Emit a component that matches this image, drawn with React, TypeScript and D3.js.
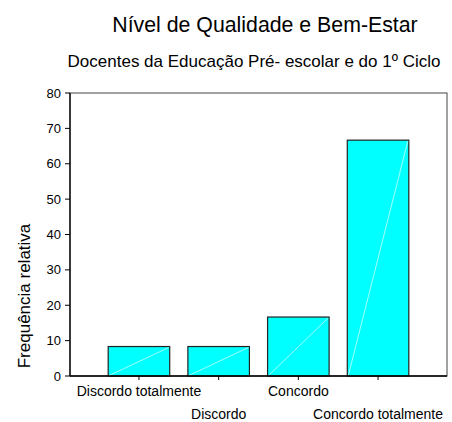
import React from "react";
import * as d3 from "d3";

const categories = ["Discordo totalmente", "Discordo", "Concordo", "Concordo totalmente"];
const values = [8.33, 8.33, 16.67, 66.67];
const yTicks = [0, 10, 20, 30, 40, 50, 60, 70, 80];
const title = "Nível de Qualidade e Bem-Estar";
const subtitle = "Docentes da Educação Pré- escolar e do 1º Ciclo";
const yTitle = "Frequência relativa";

const W = 452;
const H = 422;
const m = { left: 70, right: 447, top: 93, bottom: 376 };
const FONT = "'Liberation Sans', Arial, Helvetica, sans-serif";

export default function App() {
  const x = d3
    .scaleBand<string>()
    .domain(categories)
    .range([m.left, m.right])
    .paddingInner(0.228)
    .paddingOuter(0.479);
  const y = d3.scaleLinear().domain([0, 80]).range([m.bottom, m.top]);

  return (
    <svg
      width={W}
      height={H}
      style={{ position: "absolute", left: 0, top: 0, background: "#fff" }}
      fontFamily={FONT}
    >
      <text x={265} y={31.5} fontSize={21.3} textAnchor="middle" fill="#000">
        {title}
      </text>
      <text x={254} y={67} fontSize={17} textAnchor="middle" fill="#000">
        {subtitle}
      </text>

      {/* frame */}
      <rect
        x={m.left}
        y={m.top}
        width={m.right - m.left}
        height={m.bottom - m.top}
        fill="none"
        stroke="#444"
        strokeWidth={1}
      />

      {/* bars */}
      {categories.map((c, i) => {
        const bx = x(c)!;
        const bw = x.bandwidth();
        const by = y(values[i]);
        const bh = y(0) - by;
        return (
          <g key={c}>
            <rect x={bx} y={by} width={bw} height={bh} fill="#00ffff" stroke="#222" strokeWidth={1.2} />
            <line
              x1={bx + 1}
              y1={y(0) - 0.5}
              x2={bx + bw - 1}
              y2={by + 1}
              stroke="#ccffff"
              strokeWidth={0.8}
            />
          </g>
        );
      })}

      {/* y axis */}
      <line x1={m.left} y1={m.top} x2={m.left} y2={m.bottom} stroke="#000" strokeWidth={1.3} />
      {yTicks.map((t) => (
        <g key={t}>
          <line x1={m.left - 5} y1={y(t)} x2={m.left} y2={y(t)} stroke="#000" strokeWidth={1} />
          <text x={m.left - 9} y={y(t)} dy="0.35em" fontSize={13} textAnchor="end" fill="#000">
            {t}
          </text>
        </g>
      ))}

      {/* x axis */}
      <line x1={m.left} y1={m.bottom} x2={m.right} y2={m.bottom} stroke="#000" strokeWidth={1.3} />
      {categories.map((c, i) => {
        const cx = x(c)! + x.bandwidth() / 2;
        return (
          <g key={c}>
            <line x1={cx} y1={m.bottom} x2={cx} y2={m.bottom + 4} stroke="#000" strokeWidth={1} />
            <text
              x={cx}
              y={i % 2 === 0 ? 396 : 419}
              fontSize={14}
              textAnchor="middle"
              fill="#000"
            >
              {c}
            </text>
          </g>
        );
      })}

      <text
        transform={`translate(29.5,296) rotate(-90)`}
        fontSize={17}
        textAnchor="middle"
        fill="#000"
      >
        {yTitle}
      </text>
    </svg>
  );
}
